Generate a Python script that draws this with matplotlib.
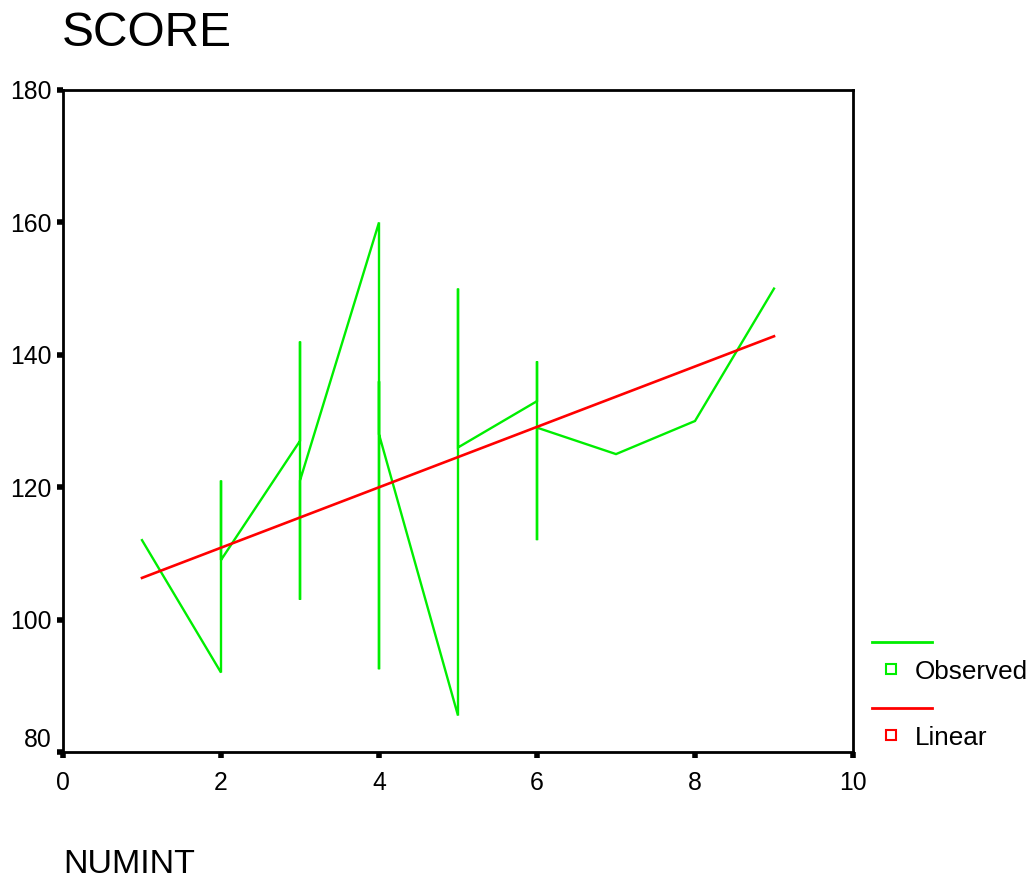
import matplotlib
matplotlib.use("Agg")
import matplotlib.pyplot as plt
from matplotlib.lines import Line2D
import numpy as np

plt.rcParams['font.family'] = ['Liberation Sans', 'DejaVu Sans']

# observed SCORE values in data order (sorted by NUMINT)
numint = [1, 2, 2, 2, 3, 3, 3, 3, 4, 4, 4, 4, 5, 5, 5, 6, 6, 6, 6, 7, 8, 9]
score = [112, 92, 121, 109, 127, 142, 103, 121, 160, 92.5, 136, 128,
         85.5, 150, 126, 133, 139, 112, 129, 125, 130, 150]

# linear fit
fit_x = [1, 9]
fit_y = [106.3, 142.8]

xticks = [0, 2, 4, 6, 8, 10]
yticks = [80, 100, 120, 140, 160, 180]

green = '#00ee00'
red = '#ff0000'

fig = plt.figure(figsize=(10.36, 8.8), dpi=100)
ax = fig.add_axes([63/1036, 1-752/880, 790/1036, 662/880])

ax.plot(numint, score, color=green, lw=1.7, solid_joinstyle='miter')
ax.plot(fit_x, fit_y, color=red, lw=1.9)

ax.set_xlim(0, 10)
ax.set_ylim(80, 180)
ax.set_xticks(xticks)
ax.set_yticks(yticks)
ax.set_xticklabels([str(t) for t in xticks])
ax.set_yticklabels([str(t) for t in yticks])
ax.tick_params(axis='both', direction='out', length=4, width=4, labelsize=17.8, color='black')
ax.tick_params(axis='x', pad=10)
ax.tick_params(axis='y', pad=4)
for lab in ax.get_yticklabels():
    if lab.get_text() == '80':
        lab.set_va('bottom')
for s in ax.spines.values():
    s.set_linewidth(2)
    s.set_color('black')

fig.text(62/1036, 1-34/880, 'SCORE', fontsize=34.5, ha='left', va='center')
fig.text(63/1036, 1-864/880, 'NUMINT', fontsize=24.5, ha='left', va='center')

# legend drawn by hand, SPSS style
fig.add_artist(Line2D([872/1036, 932/1036], [1-642/880, 1-642/880], color=green, lw=2))
fig.add_artist(Line2D([890.5/1036], [1-668.5/880], marker='s', ms=6.5, mfc='none',
                      mec=green, mew=1.5, ls='none'))
fig.text(915/1036, 1-672/880, 'Observed', fontsize=18.8, ha='left', va='center')
fig.add_artist(Line2D([872/1036, 932/1036], [1-708/880, 1-708/880], color=red, lw=2))
fig.add_artist(Line2D([890.5/1036], [1-734.5/880], marker='s', ms=6.5, mfc='none',
                      mec=red, mew=1.5, ls='none'))
fig.text(915/1036, 1-738/880, 'Linear', fontsize=18.8, ha='left', va='center')

fig.savefig('out.png', dpi=100)
